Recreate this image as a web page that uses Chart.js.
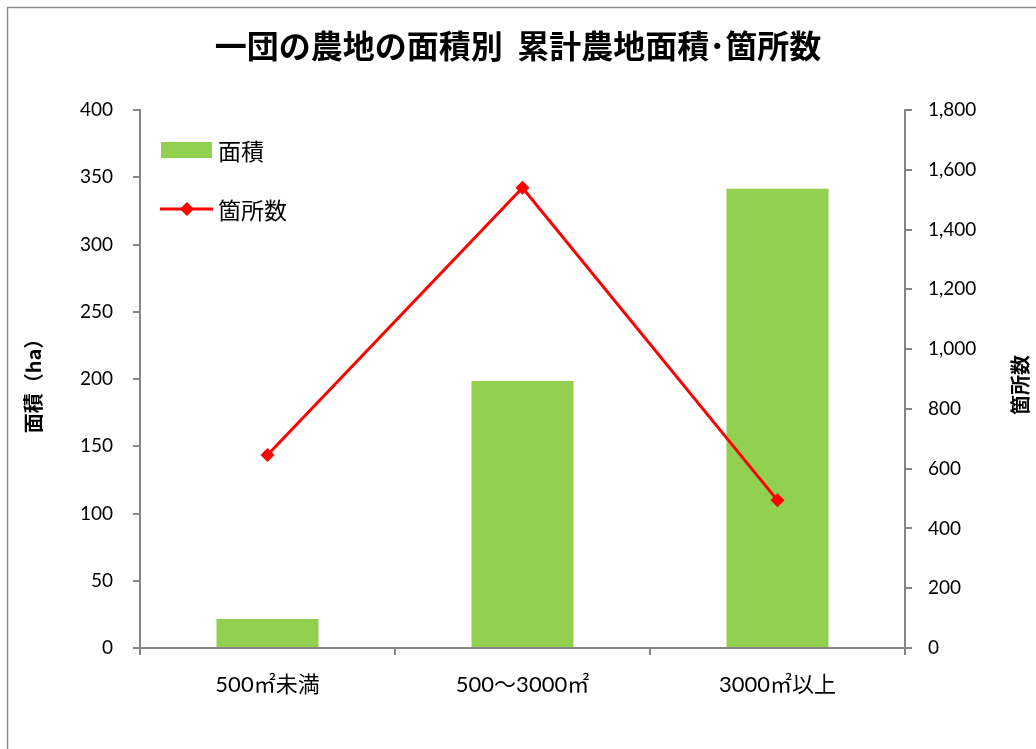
<!DOCTYPE html>
<html lang="ja">
<head>
    <meta charset="utf-8">
    <title>一団の農地の面積別 累計農地面積・箇所数</title>
    <script src="https://cdn.jsdelivr.net/npm/chart.js@4.4.1/dist/chart.umd.min.js"></script>
    <style>
        body {
            margin: 0;
            background: #ffffff;
        }

        .chart-box {
            width: 1036px;
            height: 749px;
        }
    </style>
</head>
<body>
    <div class="chart-box">
        <canvas id="chart"></canvas>
    </div>

    <script>
        const categories = ["500㎡未満", "500～3000㎡", "3000㎡以上"];
        const areaValues = [21.5, 198.5, 341.5];
        const countValues = [646, 1540, 494];
        const leftTicks = [0, 50, 100, 150, 200, 250, 300, 350, 400];
        const rightTicks = [0, 200, 400, 600, 800, 1000, 1200, 1400, 1600, 1800];

        const axisGray = "#868686";
        const tickFont = { family: "Lato, 'Noto Sans CJK JP', sans-serif", size: 19 };
        const catFont = { family: "Lato, 'Noto Sans CJK JP', sans-serif", size: 22 };
        const cjkBold = "bold 20px 'Noto Sans CJK JP', sans-serif";

        // white page, grey outer frame
        const framePlugin = {
            id: "frame",
            beforeDraw(chart) {
                const ctx = chart.ctx;
                ctx.save();
                ctx.fillStyle = "#ffffff";
                ctx.fillRect(0, 0, chart.width, chart.height);
                ctx.strokeStyle = "#8c8c8c";
                ctx.lineWidth = 1.5;
                ctx.strokeRect(7.5, 7.5, chart.width + 20, chart.height + 20);
                ctx.restore();
            }
        };

        // axis titles (right one reads bottom to top) and the legend inside the plot
        const extrasPlugin = {
            id: "extras",
            afterDraw(chart) {
                const ctx = chart.ctx;
                const area = chart.chartArea;
                const midY = (area.top + area.bottom) / 2;
                ctx.save();
                ctx.fillStyle = "#000000";
                ctx.font = cjkBold;
                ctx.textAlign = "center";
                ctx.textBaseline = "middle";

                ctx.save();
                ctx.translate(33, midY + 2);
                ctx.rotate(-Math.PI / 2);
                ctx.fillText("面積（ha）", 0, 0);
                ctx.restore();

                ctx.save();
                ctx.translate(1020, midY + 6);
                ctx.rotate(-Math.PI / 2);
                ctx.fillText("箇所数", 0, 0);
                ctx.restore();

                // legend
                const bar = chart.data.datasets[1];
                const line = chart.data.datasets[0];
                ctx.font = "23px 'Noto Sans CJK JP', sans-serif";
                ctx.textAlign = "left";

                ctx.fillStyle = bar.backgroundColor;
                ctx.fillRect(area.left + 21, area.top + 32, 51, 16);
                ctx.fillStyle = "#000000";
                ctx.fillText(bar.label, area.left + 78, area.top + 41);

                const ly = area.top + 99;
                ctx.strokeStyle = line.borderColor;
                ctx.lineWidth = line.borderWidth;
                ctx.beginPath();
                ctx.moveTo(area.left + 20, ly);
                ctx.lineTo(area.left + 73, ly);
                ctx.stroke();
                ctx.fillStyle = line.borderColor;
                ctx.beginPath();
                ctx.moveTo(area.left + 47, ly - 7);
                ctx.lineTo(area.left + 54, ly);
                ctx.lineTo(area.left + 47, ly + 7);
                ctx.lineTo(area.left + 40, ly);
                ctx.closePath();
                ctx.fill();
                ctx.fillStyle = "#000000";
                ctx.fillText(line.label, area.left + 78, ly + 1);
                ctx.restore();
            }
        };

        new Chart(document.getElementById("chart"), {
            data: {
                labels: categories,
                datasets: [
                    {
                        type: "line",
                        label: "箇所数",
                        data: countValues,
                        yAxisID: "y1",
                        borderColor: "#ff0000",
                        backgroundColor: "#ff0000",
                        borderWidth: 3,
                        pointStyle: "rectRot",
                        pointRadius: 7,
                        pointBorderWidth: 0,
                        tension: 0,
                        order: 0
                    },
                    {
                        type: "bar",
                        label: "面積",
                        data: areaValues,
                        yAxisID: "y",
                        backgroundColor: "#92d050",
                        categoryPercentage: 1,
                        barPercentage: 0.4,
                        order: 1
                    }
                ]
            },
            plugins: [framePlugin, extrasPlugin],
            options: {
                responsive: true,
                maintainAspectRatio: false,
                animation: false,
                layout: { padding: 0 },
                plugins: {
                    legend: { display: false },
                    tooltip: { enabled: false },
                    title: {
                        display: true,
                        text: "一団の農地の面積別  累計農地面積･箇所数",
                        color: "#000000",
                        font: { family: "'Noto Sans CJK JP', sans-serif", size: 32, weight: "bold" },
                        padding: { top: 27, bottom: 44.6 }
                    }
                },
                scales: {
                    x: {
                        grid: { offset: true, drawOnChartArea: false, color: axisGray, lineWidth: 2, tickLength: 7 },
                        border: { color: axisGray, width: 2 },
                        ticks: { color: "#000000", font: catFont, padding: 17, maxRotation: 0 },
                        afterFit(scale) { scale.height = 101; }
                    },
                    y: {
                        position: "left",
                        min: leftTicks[0],
                        max: leftTicks[leftTicks.length - 1],
                        afterBuildTicks(scale) { scale.ticks = leftTicks.map(v => ({ value: v })); },
                        grid: { drawOnChartArea: false, color: axisGray, lineWidth: 2, tickLength: 7 },
                        border: { color: axisGray, width: 2 },
                        ticks: { color: "#000000", font: tickFont, padding: 20 },
                        afterFit(scale) { scale.width = 140; }
                    },
                    y1: {
                        position: "right",
                        min: rightTicks[0],
                        max: rightTicks[rightTicks.length - 1],
                        afterBuildTicks(scale) { scale.ticks = rightTicks.map(v => ({ value: v })); },
                        grid: { drawOnChartArea: false, color: axisGray, lineWidth: 2, tickLength: 7 },
                        border: { color: axisGray, width: 2 },
                        ticks: { color: "#000000", font: tickFont, padding: 16 },
                        afterFit(scale) { scale.width = 131; }
                    }
                }
            }
        });
    </script>
</body>
</html>
